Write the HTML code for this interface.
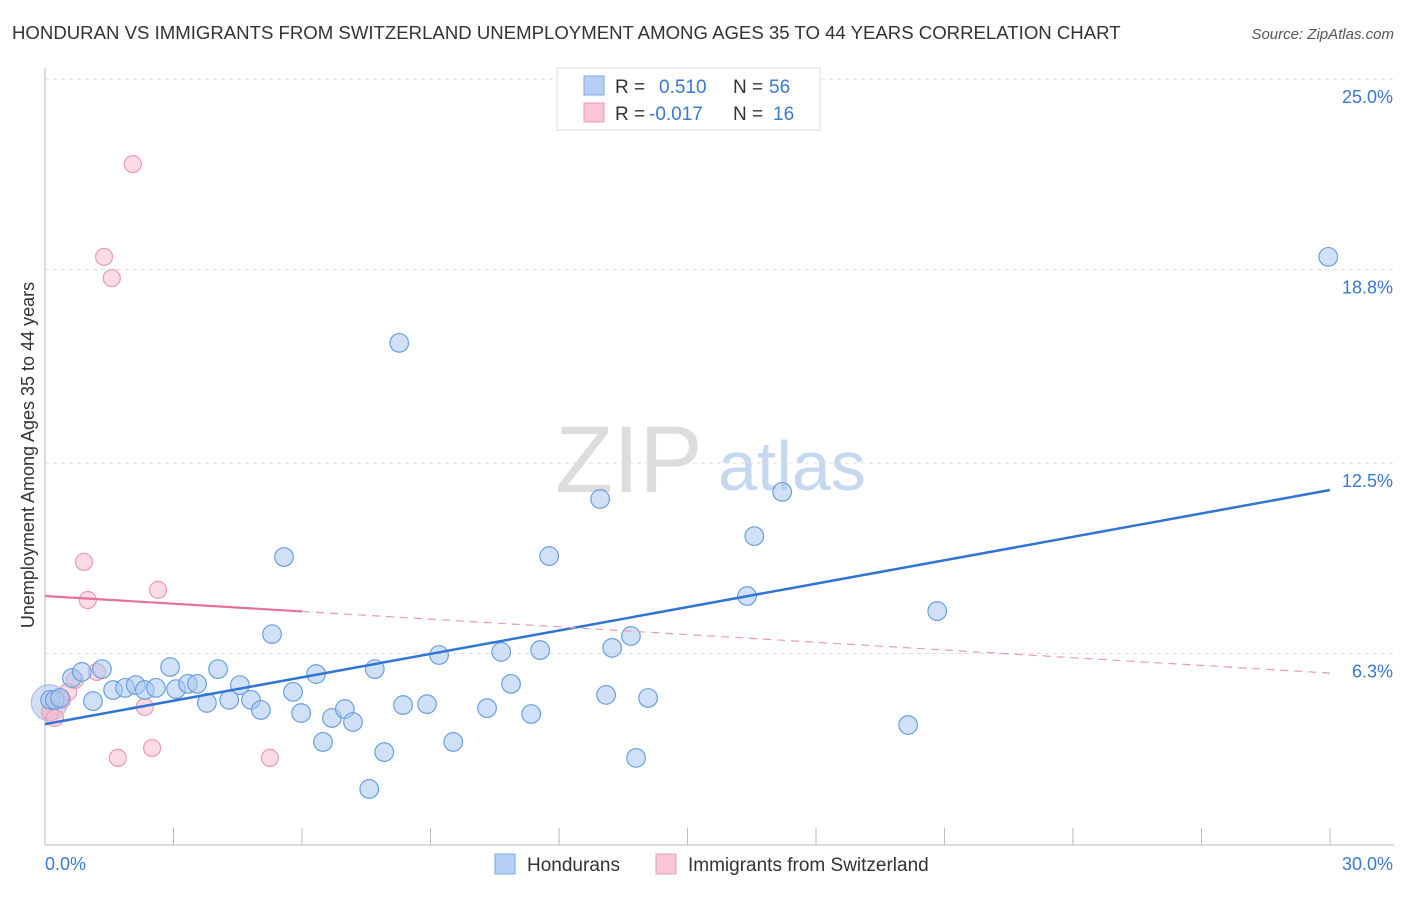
<!DOCTYPE html>
<html><head><meta charset="utf-8"><style>
body{margin:0;background:#fff;font-family:"Liberation Sans",sans-serif}
svg text{font-family:"Liberation Sans",sans-serif}
</style></head><body>
<svg id="c" width="1406" height="892">
<text x="12" y="39" font-size="18.6" fill="#333">HONDURAN VS IMMIGRANTS FROM SWITZERLAND UNEMPLOYMENT AMONG AGES 35 TO 44 YEARS CORRELATION CHART</text>
<text x="1394" y="39" font-size="15" fill="#555" font-style="italic" text-anchor="end">Source: ZipAtlas.com</text>
<text x="34" y="455" font-size="18" fill="#333" text-anchor="middle" transform="rotate(-90 34 455)">Unemployment Among Ages 35 to 44 years</text>
<text x="555" y="492" font-size="95" fill="#ddd" font-family="Liberation Serif">ZIP</text>
<text x="718" y="490" font-size="70" fill="#c5d8f0">atlas</text>
<g id="grid"></g><g id="pts"></g><g id="lines"></g>
<g>
<rect x="557" y="68" width="263" height="62" fill="#fff" stroke="#ddd"/>
<rect x="584" y="76" width="20" height="19" fill="#b5d0f4" stroke="#7aa8e4"/>
<rect x="584" y="103" width="20" height="19" fill="#f9c6d5" stroke="#eb9bb3"/>
<text x="615" y="93" font-size="19" fill="#333">R = <tspan x="659" fill="#3a78d4">0.510</tspan><tspan x="733" fill="#333">N =</tspan><tspan x="769" fill="#3a78d4">56</tspan></text>
<text x="615" y="120" font-size="19" fill="#333">R = <tspan x="649" fill="#3a78d4">-0.017</tspan><tspan x="733" fill="#333">N =</tspan><tspan x="773" fill="#3a78d4">16</tspan></text>
</g>
<g>
<rect x="495" y="854" width="20" height="20" fill="#b5d0f4" stroke="#7aa8e4"/>
<text x="527" y="871" font-size="19" fill="#333">Hondurans</text>
<rect x="656" y="854" width="20" height="20" fill="#f9c6d5" stroke="#eb9bb3"/>
<text x="688" y="871" font-size="19" fill="#333">Immigrants from Switzerland</text>
</g>
</svg>
<script>
const yTicks=[25.0,18.8,12.5,6.3];
const yTickLabels=["25.0%","18.8%","12.5%","6.3%"];
const xTickCount=10;
const blueX=[0.12,0.23,0.35,0.63,0.86,1.12,1.33,1.59,1.87,2.12,2.33,2.59,2.92,3.06,3.34,3.55,3.78,4.04,4.30,4.55,4.81,5.04,5.30,5.58,5.79,5.98,6.33,6.49,6.70,7.00,7.19,7.70,7.92,8.27,8.36,8.92,9.20,9.53,10.32,10.65,10.88,11.35,11.56,11.77,12.96,13.10,13.24,13.68,13.80,14.08,16.39,16.56,17.21,20.15,20.83,29.96,7.57];
const blueY=[4.79,4.79,4.85,5.50,5.70,4.75,5.79,5.11,5.18,5.27,5.11,5.18,5.86,5.14,5.31,5.31,4.69,5.79,4.79,5.27,4.79,4.46,6.93,9.44,5.05,4.36,5.63,3.42,4.20,4.49,4.07,5.79,3.09,16.41,4.62,4.65,6.25,3.42,4.52,6.35,5.31,4.33,6.41,9.47,11.33,4.95,6.48,6.87,2.90,4.85,8.17,10.12,11.56,3.97,7.68,19.21,1.89];
const pinkX=[0.12,0.23,0.40,0.54,0.70,1.00,0.91,1.21,1.38,1.56,1.70,2.05,2.33,2.50,2.64,5.25];
const pinkY=[4.39,4.20,4.79,5.05,5.44,8.04,9.28,5.70,19.21,18.52,2.90,22.23,4.56,3.22,8.37,2.90];
const blueLine=[4.00,11.62];
const pinkLine=[8.17,5.66];
const pinkSolidEnd=6.0;
const X=v=>45+v/30*1285, Y=v=>847-v*30.72;
const NS="http://www.w3.org/2000/svg";
function mk(t,a,p){const e=document.createElementNS(NS,t);for(const k in a)e.setAttribute(k,a[k]);p.appendChild(e);return e;}
const g=document.getElementById('grid');
const ax=mk('line',{x1:45,y1:68,x2:45,y2:845,stroke:'#bbb'},g);


const bx=mk('line',{x1:45,y1:845,x2:1394,y2:845,stroke:'#bbb'},g);


yTicks.forEach((t,i)=>{
 const gl=mk('line',{x1:45,y1:Y(t),x2:1394,y2:Y(t),stroke:'#ddd','stroke-dasharray':'4,4'},g);
 
 
 const tx=mk('text',{x:1393,y:Y(t)+24,'font-size':18,fill:'#3a78d4','text-anchor':'end'},g);
 tx.textContent=yTickLabels[i];
 
 
});
for(let i=1;i<=xTickCount;i++){
 const xt=mk('line',{x1:45+i*128.5,y1:828,x2:45+i*128.5,y2:845,stroke:'#bbb'},g);
 
 
}
const l0=mk('text',{x:45,y:870,'font-size':18,fill:'#3a78d4'},g);l0.textContent='0.0%';


const l1=mk('text',{x:1393,y:870,'font-size':18,fill:'#3a78d4','text-anchor':'end'},g);l1.textContent='30.0%';


const p=document.getElementById('pts');
const big=mk('circle',{cx:X(0.1),cy:Y(4.7),r:18,fill:'rgba(175,195,235,0.55)',stroke:'rgba(120,150,220,0.6)'},p);


pinkX.forEach((x,i)=>{const c=mk('circle',{cx:X(x),cy:Y(pinkY[i]),r:8.5,fill:'rgba(247,184,203,0.5)',stroke:'#eb9bb3','stroke-width':1.2},p);
 
 });
blueX.forEach((x,i)=>{const c=mk('circle',{cx:X(x),cy:Y(blueY[i]),r:9.3,fill:'rgba(169,200,240,0.55)',stroke:'#6a9fe0','stroke-width':1.2},p);
 
 });
const L=document.getElementById('lines');
const bl=mk('line',{x1:X(0),y1:Y(blueLine[0]),x2:X(30),y2:Y(blueLine[1]),stroke:'#2f74d6','stroke-width':2.5},L);


const pv=x=>pinkLine[0]+(pinkLine[1]-pinkLine[0])*x/30;
const ps=mk('line',{x1:X(0),y1:Y(pv(0)),x2:X(pinkSolidEnd),y2:Y(pv(pinkSolidEnd)),stroke:'#e8709a','stroke-width':2.2},L);


const pd=mk('line',{x1:X(pinkSolidEnd),y1:Y(pv(pinkSolidEnd)),x2:X(30),y2:Y(pv(30)),stroke:'#eb9bb3','stroke-width':1.2,'stroke-dasharray':'8,6'},L);


</script>
</body></html>
